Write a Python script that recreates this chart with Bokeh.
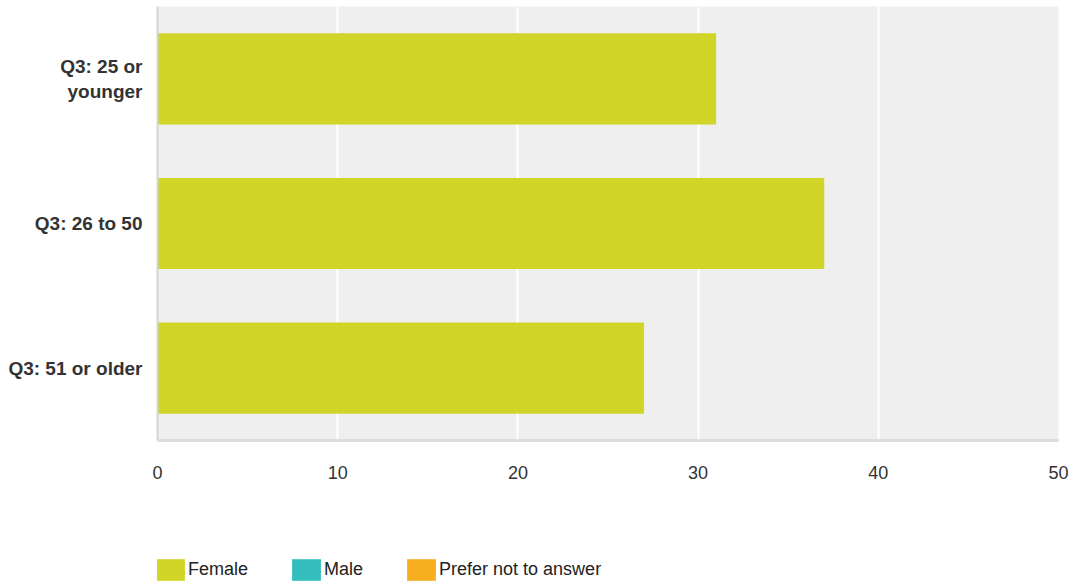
from bokeh.plotting import figure
from bokeh.layouts import column
from bokeh.models import (ColumnDataSource, FactorRange, Range1d, FixedTicker,
                          Legend, LegendItem)
from bokeh.embed import file_html
from bokeh.resources import INLINE

# ---- data ----
categories = ["Q3: 25 or\nyounger", "Q3: 26 to 50", "Q3: 51 or older"]
female = [31, 37, 27]
male = [0, 0, 0]
prefer = [0, 0, 0]
series_names = ["Female", "Male", "Prefer not to answer"]
series_colors = ["#D0D527", "#33BDBD", "#F7AE1F"]
x_ticks = [0, 10, 20, 30, 40, 50]

FONT = "Liberation Sans"
stack_cols = ["female", "male", "prefer"]

source = ColumnDataSource(dict(cat=categories, female=female, male=male, prefer=prefer))

# ---- main chart ----
p = figure(width=1069, height=500, output_backend="svg", toolbar_location=None,
           y_range=FactorRange(factors=list(reversed(categories)), range_padding=0),
           x_range=Range1d(0, 50),
           min_border_left=157, min_border_right=11, min_border_top=6, min_border_bottom=60)

p.background_fill_color = "#EFEFEF"
p.border_fill_color = "white"
p.outline_line_color = None

p.hbar_stack(stack_cols, y="cat", height=0.63, color=series_colors,
             line_color=None, source=source)

p.ygrid.grid_line_color = None
p.xgrid.ticker = FixedTicker(ticks=x_ticks[1:-1])
p.xgrid.grid_line_color = "white"
p.xgrid.grid_line_width = 2

p.xaxis.ticker = FixedTicker(ticks=x_ticks)
p.xaxis.axis_line_color = "#DDDDDD"
p.xaxis.axis_line_width = 3
p.xaxis.major_tick_line_color = None
p.xaxis.minor_tick_line_color = None
p.xaxis.major_tick_out = 0
p.xaxis.major_tick_in = 0
p.xaxis.major_label_standoff = 25
p.xaxis.major_label_text_font = FONT
p.xaxis.major_label_text_font_size = "18px"
p.xaxis.major_label_text_color = "#333333"

p.yaxis.axis_line_color = "#D5D5D5"
p.yaxis.axis_line_width = 2
p.yaxis.major_tick_line_color = None
p.yaxis.minor_tick_line_color = None
p.yaxis.major_tick_out = 0
p.yaxis.major_tick_in = 0
p.yaxis.major_label_text_font = FONT
p.yaxis.major_label_text_font_size = "19px"
p.yaxis.major_label_text_font_style = "bold"
p.yaxis.major_label_text_color = "#333333"
p.yaxis.major_label_standoff = 15
p.yaxis.major_label_text_line_height = 1.2

# ---- legend strip ----
p2 = figure(width=1069, height=82, output_backend="svg", toolbar_location=None,
            x_range=Range1d(0, 50),
            y_range=FactorRange(factors=list(reversed(categories)), range_padding=0),
            x_axis_type=None, y_axis_type=None,
            min_border_left=0, min_border_right=0, min_border_top=0, min_border_bottom=0)
p2.outline_line_color = None
p2.background_fill_color = "white"
p2.border_fill_color = "white"
legend_renderers = p2.hbar_stack(stack_cols, y="cat", height=0.63, color=series_colors,
                                 line_color=None, source=source)
for r in legend_renderers:
    r.visible = False

legend = Legend(items=[LegendItem(label=n, renderers=[r])
                       for n, r in zip(series_names, legend_renderers)],
                location=(-5, -1), orientation="horizontal",
                glyph_width=36, glyph_height=27, label_standoff=0, spacing=40,
                padding=0, margin=0, border_line_alpha=0, background_fill_alpha=0,
                label_text_font=FONT, label_text_font_size="18px", label_text_color="#222222")
p2.add_layout(legend)

layout = column(p, p2, spacing=0)
open("out.html", "w").write(file_html(layout, INLINE))
